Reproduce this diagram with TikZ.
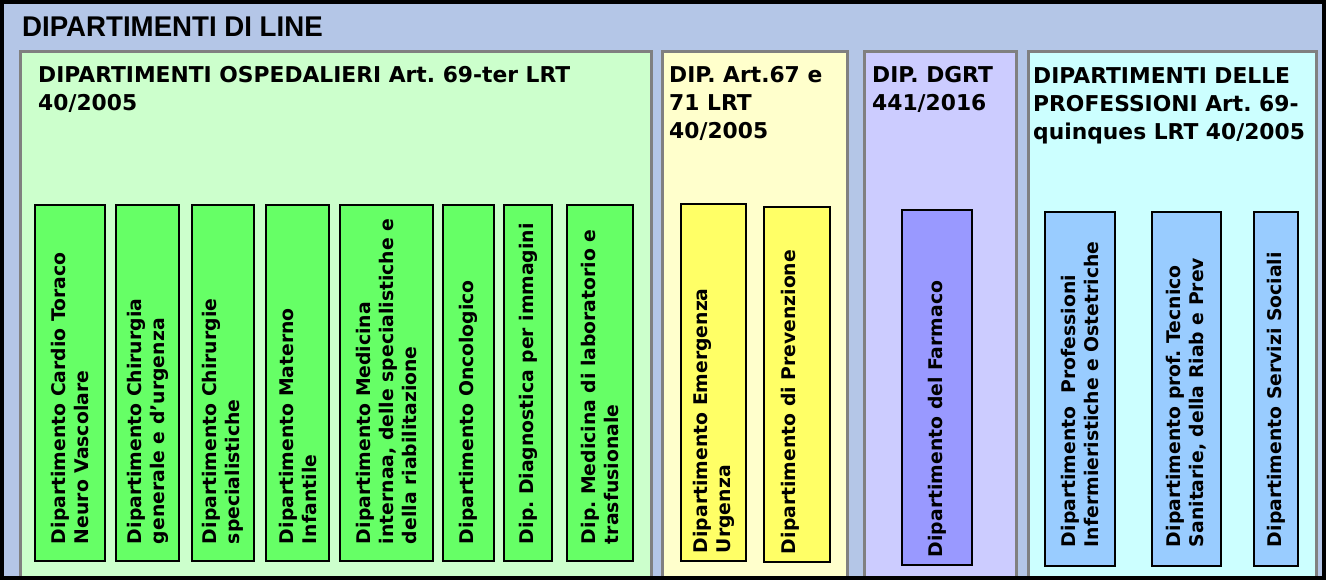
\documentclass[tikz,border=0pt]{standalone}
\usepackage{fontspec}
\setmainfont{DejaVu Sans}
\newfontfamily\titlefont[FakeStretch=0.97]{Liberation Sans}
\usetikzlibrary{positioning, calc}
\frenchspacing

\definecolor{linebg}{RGB}{180,198,231}
\definecolor{panelgray}{RGB}{128,128,128}
\definecolor{osppanel}{RGB}{204,255,204}
\definecolor{ospbox}{RGB}{102,255,102}
\definecolor{artpanel}{RGB}{255,255,204}
\definecolor{artbox}{RGB}{255,255,102}
\definecolor{dgrtpanel}{RGB}{204,204,255}
\definecolor{dgrtbox}{RGB}{153,153,255}
\definecolor{profpanel}{RGB}{204,255,255}
\definecolor{profbox}{RGB}{153,204,255}

\newcommand{\titlesize}{\fontsize{28.5}{30}\selectfont}
\newcommand{\headsize}{\fontsize{21.8}{28}\selectfont}
\newcommand{\deptsize}{\fontsize{18.8}{23}\selectfont}

\begin{document}
\begin{tikzpicture}[x=1pt, y=-1pt,
  panel/.style={draw=panelgray, line width=3pt},
  head/.style={anchor=north west, align=left, inner sep=0pt, font=\headsize\bfseries},
  dept/.style={draw=black, line width=2.5pt, inner sep=0pt},
  vlabel/.style={rotate=90, anchor=west, align=left, inner sep=0pt, font=\deptsize\bfseries}]
  \useasboundingbox (0,0) rectangle (1326,580);

  % Background and group panels
  \fill[linebg] (2,2) rectangle (1324,578);
  \draw[panel, fill=osppanel] (20,52) rectangle (651,580);
  \draw[panel, fill=artpanel] (662,52) rectangle (847,580);
  \draw[panel, fill=dgrtpanel] (864,52) rectangle (1016,580);
  \draw[panel, fill=profpanel] (1028,52) rectangle (1316,580);
  \draw[line width=4pt] (2,2) rectangle (1324,578);

  % Titles
  \node[anchor=base west, inner sep=0pt, font=\titlefont\titlesize\bfseries] (title) at (22,37) {DIPARTIMENTI DI LINE};
  \node[head] (ospHead) at (38,66.5) {DIPARTIMENTI OSPEDALIERI Art. 69-ter LRT\\40/2005};
  \node[head] (artHead) at (669,66.5) {DIP. Art.67 e\\71 LRT\\40/2005};
  \node[head] (dgrtHead) at (872,66.5) {DIP. DGRT\\441/2016};
  \node[head] (profHead) at (1033,67.5) {DIPARTIMENTI DELLE\\PROFESSIONI Art. 69-\\quinques LRT 40/2005};

  % === Dipartimenti ospedalieri ===
  \node[dept, fill=ospbox, minimum width=70pt, minimum height=356pt] (cardio) at (70,383) {};
  \node[dept, fill=ospbox, minimum width=63pt, minimum height=356pt] (chirgen) at (147.5,383) {};
  \node[dept, fill=ospbox, minimum width=62pt, minimum height=356pt] (chirspec) at (223,383) {};
  \node[dept, fill=ospbox, minimum width=63pt, minimum height=356pt] (materno) at (297.5,383) {};
  \node[dept, fill=ospbox, minimum width=93pt, minimum height=356pt] (medint) at (386.5,383) {};
  \node[dept, fill=ospbox, minimum width=51pt, minimum height=356pt] (onco) at (468.5,383) {};
  \node[dept, fill=ospbox, minimum width=48pt, minimum height=356pt] (diagn) at (528,383) {};
  \node[dept, fill=ospbox, minimum width=66pt, minimum height=356pt] (lab) at (600,383) {};

  \node[vlabel] (cardioT) at ([yshift=18pt]cardio.south) {Dipartimento Cardio Toraco\\Neuro Vascolare};
  \node[vlabel] (chirgenT) at ([yshift=18pt]chirgen.south) {Dipartimento Chirurgia\\generale e d’urgenza};
  \node[vlabel] (chirspecT) at ([yshift=18pt]chirspec.south) {Dipartimento Chirurgie\\specialistiche};
  \node[vlabel] (maternoT) at ([yshift=18pt]materno.south) {Dipartimento Materno\\Infantile};
  \node[vlabel] (medintT) at ([yshift=18pt]medint.south) {Dipartimento Medicina\\internaa, delle specialistiche e\\della riabilitazione};
  \node[vlabel] (oncoT) at ([yshift=18pt]onco.south) {Dipartimento Oncologico};
  \node[vlabel] (diagnT) at ([yshift=18pt]diagn.south) {Dip. Diagnostica per immagini};
  \node[vlabel] (labT) at ([yshift=18pt]lab.south) {Dip. Medicina di laboratorio e\\trasfusionale};

  % === Art. 67 e 71 ===
  \node[dept, fill=artbox, minimum width=65pt, minimum height=357pt] (emerg) at (713.5,382.5) {};
  \node[dept, fill=artbox, minimum width=66pt, minimum height=355pt] (prev) at (797,384.5) {};
  \node[vlabel] (emergT) at ([yshift=9pt]emerg.south) {Dipartimento Emergenza\\Urgenza};
  \node[vlabel] (prevT) at ([yshift=9pt,xshift=-7pt]prev.south) {Dipartimento di Prevenzione};

  % === DGRT 441/2016 ===
  \node[dept, fill=dgrtbox, minimum width=70pt, minimum height=355pt] (farm) at (937,387.5) {};
  \node[vlabel] (farmT) at ([yshift=9pt]farm.south) {Dipartimento del Farmaco};

  % === Professioni ===
  \node[dept, fill=profbox, minimum width=70pt, minimum height=354pt] (infer) at (1080,389) {};
  \node[dept, fill=profbox, minimum width=69pt, minimum height=354pt] (tecn) at (1186.5,389) {};
  \node[dept, fill=profbox, minimum width=44pt, minimum height=354pt] (soc) at (1276,389) {};
  \node[vlabel] (inferT) at ([yshift=20pt]infer.south) {Dipartimento\ \ Professioni\\Infermieristiche e Ostetriche};
  \node[vlabel] (tecnT) at ([yshift=20pt]tecn.south) {Dipartimento prof. Tecnico\\Sanitarie, della Riab e Prev};
  \node[vlabel] (socT) at ([yshift=20pt]soc.south) {Dipartimento Servizi Sociali};
\end{tikzpicture}
\end{document}
